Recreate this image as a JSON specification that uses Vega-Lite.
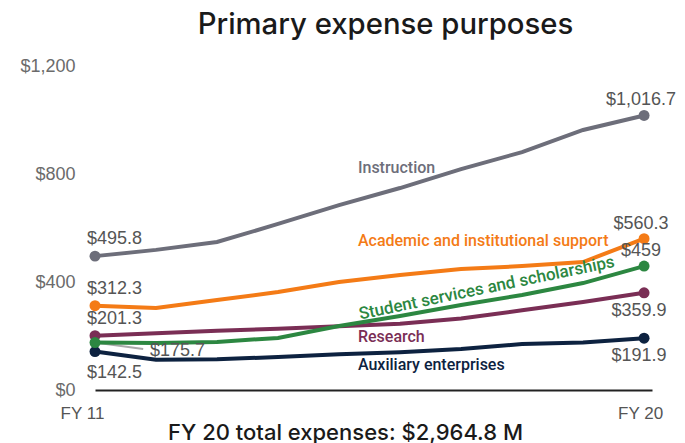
{
  "$schema": "https://vega.github.io/schema/vega-lite/v6.json",
  "autosize": "none",
  "width": 557,
  "height": 324,
  "padding": {"left": 95, "top": 66, "right": 33, "bottom": 53},
  "background": "white",
  "config": {"view": {"stroke": null}, "font": "Liberation Sans"},
  "title": {"text": "Primary expense purposes", "fontSize": 29.3, "font": "Inter", "fontWeight": 500, "color": "#1a1a1a", "anchor": "middle", "frame": "group", "dx": 12, "offset": 17},
  "datasets": {
    "series": [
      {"series": "Instruction", "fy": 11, "value": 495.8},
      {"series": "Instruction", "fy": 12, "value": 519},
      {"series": "Instruction", "fy": 13, "value": 548},
      {"series": "Instruction", "fy": 14, "value": 615},
      {"series": "Instruction", "fy": 15, "value": 685},
      {"series": "Instruction", "fy": 16, "value": 748},
      {"series": "Instruction", "fy": 17, "value": 818},
      {"series": "Instruction", "fy": 18, "value": 881},
      {"series": "Instruction", "fy": 19, "value": 963},
      {"series": "Instruction", "fy": 20, "value": 1016.7},
      {"series": "Academic and institutional support", "fy": 11, "value": 312.3},
      {"series": "Academic and institutional support", "fy": 12, "value": 304},
      {"series": "Academic and institutional support", "fy": 13, "value": 333},
      {"series": "Academic and institutional support", "fy": 14, "value": 363},
      {"series": "Academic and institutional support", "fy": 15, "value": 400},
      {"series": "Academic and institutional support", "fy": 16, "value": 426},
      {"series": "Academic and institutional support", "fy": 17, "value": 448},
      {"series": "Academic and institutional support", "fy": 18, "value": 459},
      {"series": "Academic and institutional support", "fy": 19, "value": 474},
      {"series": "Academic and institutional support", "fy": 20, "value": 560.3},
      {"series": "Auxiliary enterprises", "fy": 11, "value": 142.5},
      {"series": "Auxiliary enterprises", "fy": 12, "value": 112},
      {"series": "Auxiliary enterprises", "fy": 13, "value": 114},
      {"series": "Auxiliary enterprises", "fy": 14, "value": 122},
      {"series": "Auxiliary enterprises", "fy": 15, "value": 132},
      {"series": "Auxiliary enterprises", "fy": 16, "value": 140},
      {"series": "Auxiliary enterprises", "fy": 17, "value": 152},
      {"series": "Auxiliary enterprises", "fy": 18, "value": 170},
      {"series": "Auxiliary enterprises", "fy": 19, "value": 176},
      {"series": "Auxiliary enterprises", "fy": 20, "value": 191.9},
      {"series": "Research", "fy": 11, "value": 201.3},
      {"series": "Research", "fy": 12, "value": 210},
      {"series": "Research", "fy": 13, "value": 219},
      {"series": "Research", "fy": 14, "value": 227},
      {"series": "Research", "fy": 15, "value": 236},
      {"series": "Research", "fy": 16, "value": 245},
      {"series": "Research", "fy": 17, "value": 265},
      {"series": "Research", "fy": 18, "value": 295},
      {"series": "Research", "fy": 19, "value": 326},
      {"series": "Research", "fy": 20, "value": 359.9},
      {"series": "Student services and scholarships", "fy": 11, "value": 175.7},
      {"series": "Student services and scholarships", "fy": 12, "value": 174},
      {"series": "Student services and scholarships", "fy": 13, "value": 178},
      {"series": "Student services and scholarships", "fy": 14, "value": 193},
      {"series": "Student services and scholarships", "fy": 15, "value": 237},
      {"series": "Student services and scholarships", "fy": 16, "value": 274},
      {"series": "Student services and scholarships", "fy": 17, "value": 315},
      {"series": "Student services and scholarships", "fy": 18, "value": 352},
      {"series": "Student services and scholarships", "fy": 19, "value": 396},
      {"series": "Student services and scholarships", "fy": 20, "value": 459}
    ],
    "names": [
      {"series": "Instruction", "fy": 15.31, "value": 822},
      {"series": "Academic and institutional support", "fy": 15.31, "value": 552},
      {"series": "Research", "fy": 15.31, "value": 196},
      {"series": "Auxiliary enterprises", "fy": 15.31, "value": 93}
    ],
    "rotated": [
      {"series": "Student services and scholarships", "fy": 15.33, "value": 279}
    ],
    "leader": [
      {"fy": 11, "value": 175.7, "fy2": 11.79, "value2": 152}
    ]
  },
  "encoding": {
    "x": {"field": "fy", "type": "quantitative", "scale": {"domain": [11, 20.13], "nice": false, "zero": false},
      "axis": {"values": [11, 20], "labelExpr": "'FY ' + datum.value", "grid": false, "ticks": false, "domainColor": "#222222", "domainWidth": 2,
        "labelFontSize": 17, "labelColor": "#555555", "labelPadding": 15, "labelFont": "Liberation Sans", "labelFlush": false, "labelAlign": "center",
        "labelOffset": {"condition": {"test": "datum.value == 11", "value": -13}, "value": -4},
        "title": "FY 20 total expenses: $2,964.8 M", "titleFontSize": 22, "titleFontWeight": 500, "titleColor": "#1a1a1a",
        "titleX": 250, "titleY": 49, "titleAlign": "center", "titleBaseline": "alphabetic", "titleFont": "Inter"}},
    "y": {"field": "value", "type": "quantitative", "scale": {"domain": [0, 1200], "nice": false},
      "axis": {"values": [0, 400, 800, 1200], "format": "$,.0f", "grid": false, "ticks": false, "domain": false,
        "labelFontSize": 18, "labelColor": "#6b6b6b", "labelPadding": 20, "title": null, "labelFont": "Liberation Sans"}},
    "color": {"field": "series", "type": "nominal", "legend": null,
      "scale": {"domain": ["Instruction", "Academic and institutional support", "Auxiliary enterprises", "Research", "Student services and scholarships"],
        "range": ["#6d6e7a", "#f47b16", "#0d2240", "#7a2e55", "#2c8741"]}}
  },
  "layer": [
    {"data": {"name": "leader"}, "mark": {"type": "rule", "color": "#aaaaaa", "strokeWidth": 2},
      "encoding": {"x": {"field": "fy", "type": "quantitative"}, "y": {"field": "value", "type": "quantitative"}, "x2": {"field": "fy2"}, "y2": {"field": "value2"}, "color": null}},
    {"data": {"name": "series"}, "mark": {"type": "line", "strokeWidth": 4}},
    {"data": {"name": "series"}, "transform": [{"filter": "datum.fy == 11 || datum.fy == 20"}],
      "mark": {"type": "point", "filled": true, "size": 120, "opacity": 1}},
    {"data": {"name": "series"}, "transform": [{"filter": "datum.fy == 11 && (datum.series == 'Instruction' || datum.series == 'Academic and institutional support' || datum.series == 'Research')"}],
      "mark": {"type": "text", "align": "left", "dx": -8, "dy": -17, "fontSize": 18, "color": "#555555"},
      "encoding": {"text": {"field": "value", "format": "$,"}, "color": null}},
    {"data": {"name": "series"}, "transform": [{"filter": "datum.fy == 11 && datum.series == 'Auxiliary enterprises'"}],
      "mark": {"type": "text", "align": "left", "dx": -8, "dy": 21, "fontSize": 18, "color": "#555555"},
      "encoding": {"text": {"field": "value", "format": "$,"}, "color": null}},
    {"data": {"name": "series"}, "transform": [{"filter": "datum.fy == 11 && datum.series == 'Student services and scholarships'"}],
      "mark": {"type": "text", "align": "left", "dx": 55, "dy": 8, "fontSize": 18, "color": "#555555"},
      "encoding": {"text": {"field": "value", "format": "$,"}, "color": null}},
    {"data": {"name": "series"}, "transform": [{"filter": "datum.fy == 20 && (datum.series == 'Instruction' || datum.series == 'Academic and institutional support' || datum.series == 'Student services and scholarships')"}],
      "mark": {"type": "text", "align": "center", "dx": -3, "dy": -15, "fontSize": 18, "color": "#555555"},
      "encoding": {"text": {"field": "value", "format": "$,"}, "color": null}},
    {"data": {"name": "series"}, "transform": [{"filter": "datum.fy == 20 && (datum.series == 'Research' || datum.series == 'Auxiliary enterprises')"}],
      "mark": {"type": "text", "align": "center", "dx": -5, "dy": 18, "fontSize": 18, "color": "#555555"},
      "encoding": {"text": {"field": "value", "format": "$,"}, "color": null}},
    {"data": {"name": "names"}, "mark": {"type": "text", "align": "left", "baseline": "middle", "fontSize": 16, "fontWeight": 500, "font": "Roboto"},
      "encoding": {"text": {"field": "series"}}},
    {"data": {"name": "rotated"}, "mark": {"type": "text", "align": "left", "baseline": "middle", "fontSize": 17, "fontWeight": 500, "font": "Roboto", "angle": -11.7},
      "encoding": {"text": {"field": "series"}}}
  ]
}
